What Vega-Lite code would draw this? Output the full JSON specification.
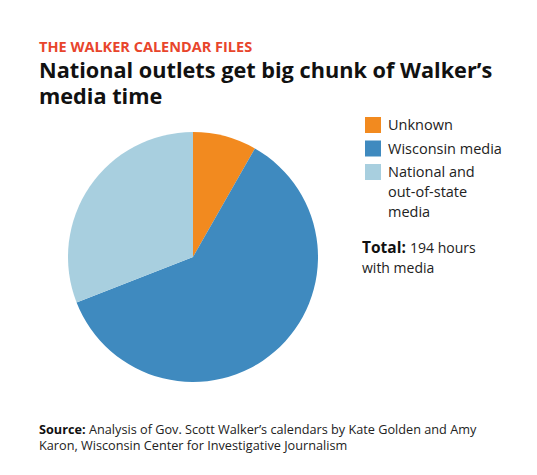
{
  "$schema": "https://vega.github.io/schema/vega-lite/v6.json",
  "width": 250,
  "height": 250,
  "autosize": {"type": "none"},
  "padding": {"left": 68, "top": 132, "right": 219, "bottom": 93},
  "background": "white",
  "config": {"view": {"stroke": null}, "font": "Open Sans"},
  "title": {
    "text": "THE WALKER CALENDAR FILES",
    "subtitle": ["National outlets get big chunk of Walker’s", "media time"],
    "anchor": "start",
    "frame": "group",
    "dx": -29,
    "offset": 7,
    "font": "Open Sans",
    "fontSize": 14.5,
    "fontWeight": "bold",
    "color": "#e8452c",
    "subtitleFont": "Open Sans",
    "subtitleFontSize": 21.7,
    "subtitleFontWeight": "bold",
    "subtitleColor": "#111111",
    "subtitleLineHeight": 26.5,
    "subtitlePadding": 5.5
  },
  "layer": [
    {
      "data": {
        "values": [
          {"category": "Unknown", "hours": 16, "rank": 1},
          {"category": "Wisconsin media", "hours": 118, "rank": 2},
          {"category": "National and out-of-state media", "hours": 60, "rank": 3}
        ]
      },
      "mark": {"type": "arc", "outerRadius": 125},
      "encoding": {
        "theta": {"field": "hours", "type": "quantitative", "stack": true},
        "order": {"field": "rank", "type": "quantitative", "sort": "ascending"},
        "color": {
          "field": "category",
          "type": "nominal",
          "sort": ["Unknown", "Wisconsin media", "National and out-of-state media"],
          "scale": {
            "domain": ["Unknown", "Wisconsin media", "National and out-of-state media"],
            "range": ["#f28a1f", "#3f8abf", "#a8cfdf"]
          },
          "legend": {
            "orient": "none",
            "legendX": 297,
            "legendY": -15,
            "title": null,
            "symbolType": "square",
            "symbolSize": 256,
            "symbolStrokeWidth": 0,
            "labelFont": "Open Sans",
            "labelFontSize": 14.5,
            "labelColor": "#222222",
            "labelOffset": 7,
            "labelLimit": 300,
            "rowPadding": 7.5,
            "labelBaseline": "alphabetic",
            "labelExpr": "datum.label == 'National and out-of-state media' ? ['National and', 'out-of-state', 'media'] : datum.label",
            "encode": {"labels": {"update": {"dy": {"value": 5}, "lineHeight": {"value": 20}}}}
          }
        }
      }
    },
    {
      "data": {"values": [{"t": "Total:"}]},
      "mark": {"type": "text", "x": 294, "y": 121, "align": "left", "baseline": "alphabetic", "fontSize": 15.5, "fontWeight": "bold", "color": "#111111"},
      "encoding": {"text": {"field": "t"}}
    },
    {
      "data": {"values": [{"t": "194 hours"}]},
      "mark": {"type": "text", "x": 342, "y": 121, "align": "left", "baseline": "alphabetic", "fontSize": 14, "color": "#222222"},
      "encoding": {"text": {"field": "t"}}
    },
    {
      "data": {"values": [{"t": "with media"}]},
      "mark": {"type": "text", "x": 294, "y": 141, "align": "left", "baseline": "alphabetic", "fontSize": 14, "color": "#222222"},
      "encoding": {"text": {"field": "t"}}
    },
    {
      "data": {"values": [{"t": "Source:"}]},
      "mark": {"type": "text", "x": -29, "y": 301.5, "align": "left", "baseline": "alphabetic", "fontSize": 12.7, "fontWeight": "bold", "color": "#111111"},
      "encoding": {"text": {"field": "t"}}
    },
    {
      "data": {"values": [{"t": "Analysis of Gov. Scott Walker’s calendars by Kate Golden and Amy"}]},
      "mark": {"type": "text", "x": 21, "y": 301.5, "align": "left", "baseline": "alphabetic", "fontSize": 12.7, "color": "#222222"},
      "encoding": {"text": {"field": "t"}}
    },
    {
      "data": {"values": [{"t": "Karon, Wisconsin Center for Investigative Journalism"}]},
      "mark": {"type": "text", "x": -29, "y": 318, "align": "left", "baseline": "alphabetic", "fontSize": 12.7, "color": "#222222"},
      "encoding": {"text": {"field": "t"}}
    }
  ]
}
